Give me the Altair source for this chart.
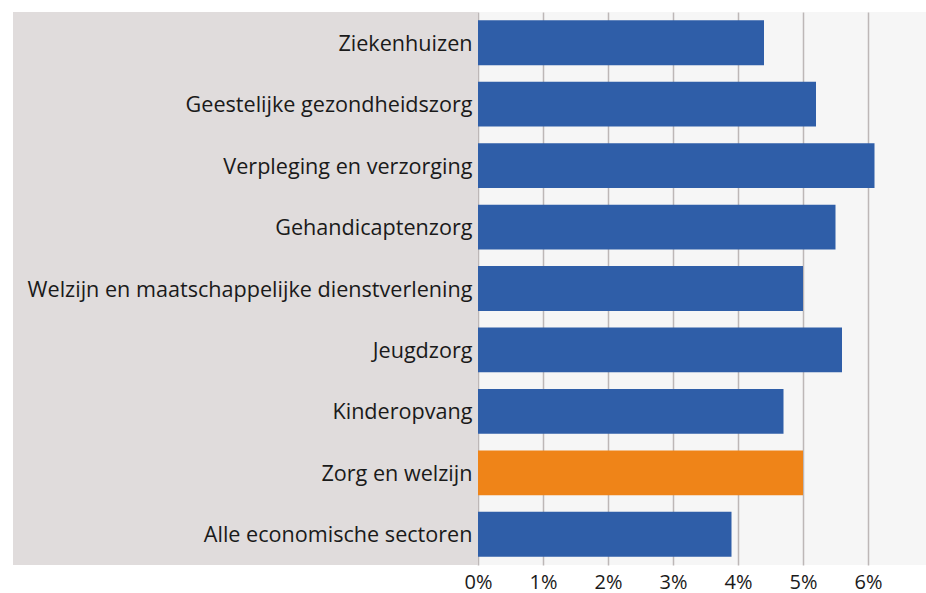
import altair as alt
import pandas as pd

categories = [
    "Ziekenhuizen",
    "Geestelijke gezondheidszorg",
    "Verpleging en verzorging",
    "Gehandicaptenzorg",
    "Welzijn en maatschappelijke dienstverlening",
    "Jeugdzorg",
    "Kinderopvang",
    "Zorg en welzijn",
    "Alle economische sectoren",
]
values = [4.4, 5.2, 6.1, 5.5, 5.0, 5.6, 4.7, 5.0, 3.9]
groups = ["sector"] * 7 + ["totaal", "sector"]
tick_values = [0, 1, 2, 3, 4, 5, 6]

df = pd.DataFrame({"cat": categories, "val": values, "grp": groups})

FONT = "Open Sans"
W, H = 448, 553

bg = alt.Chart(alt.Data(values=[{}])).mark_rect(color="#e0dcdc").encode(
    x=alt.value(-465), x2=alt.value(0), y=alt.value(0), y2=alt.value(H)
)

bars = alt.Chart(df).mark_bar().encode(
    y=alt.Y("cat:N", sort=categories, title=None,
            scale=alt.Scale(paddingInner=0.27, paddingOuter=0.135),
            axis=alt.Axis(ticks=False, domain=False, labelPadding=6, labelFontSize=21.6,
                          labelOffset=2,
                          labelFont=FONT, labelColor="#1a1a1a", labelLimit=470, zindex=2)),
    x=alt.X("val:Q", title=None,
            scale=alt.Scale(domain=[0, W / 65.0], nice=False, zero=True),
            axis=alt.Axis(values=tick_values, labelExpr="datum.value + '%'", ticks=False,
                          domain=False, grid=True, gridColor="#bdb7b7", gridWidth=1.5,
                          labelPadding=7, labelFontSize=20, labelFont=FONT,
                          labelFlush=False, labelOverlap=False,
                          labelColor="#1a1a1a")),
    color=alt.Color("grp:N", scale=alt.Scale(domain=["sector", "totaal"],
                                             range=["#2f5ea8", "#ef8418"]), legend=None),
)

chart = alt.layer(bg, bars).properties(
    width=W, height=H,
    autosize=alt.AutoSizeParams(type="none"),
    padding={"left": 478, "top": 12, "right": 0, "bottom": 28},
    background="white",
).configure_view(fill="#f6f6f6", stroke=None)

chart.save("out.html", embed_options={"renderer": "svg", "actions": False})
